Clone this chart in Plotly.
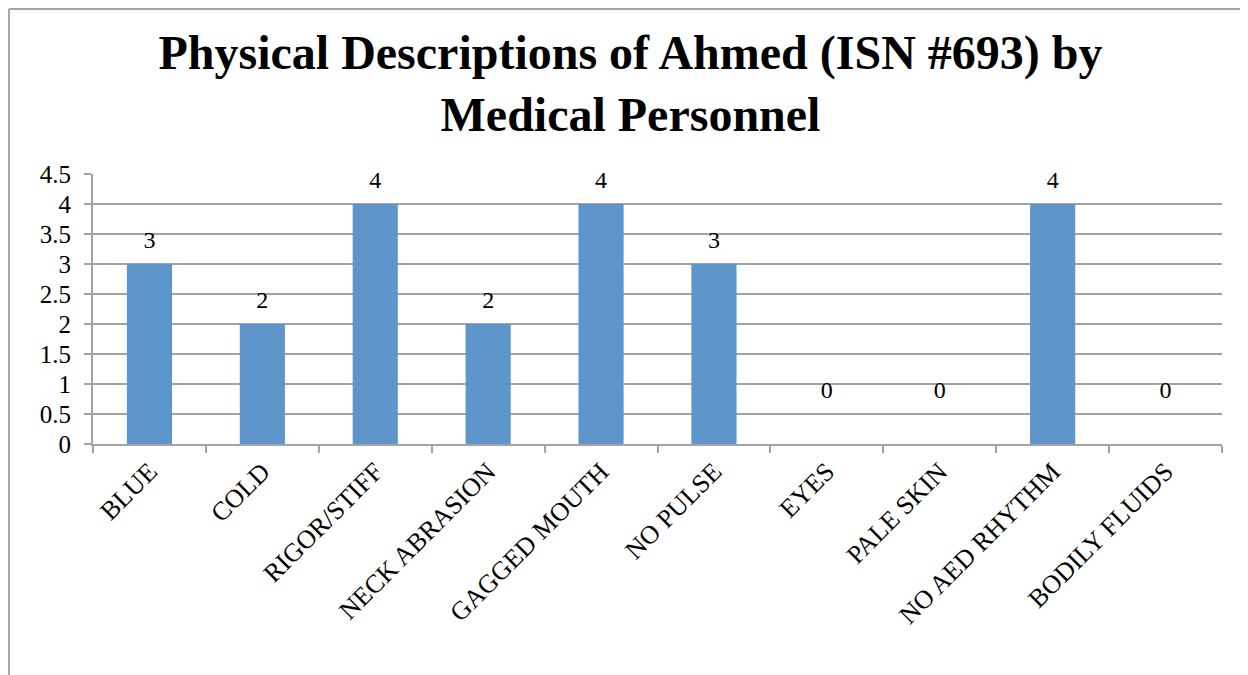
import plotly.graph_objects as go

# ------------------------------------------------------------------------------------------------------------
# Data
categories = ["BLUE", "COLD", "RIGOR/STIFF", "NECK ABRASION", "GAGGED MOUTH",
              "NO PULSE", "EYES", "PALE SKIN", "NO AED RHYTHM", "BODILY FLUIDS"]
counts = [3, 2, 4, 2, 4, 3, 0, 0, 4, 0]
y_ticks = [0, 0.5, 1, 1.5, 2, 2.5, 3, 3.5, 4, 4.5]

# Excel floats the labels of empty bars a little above the baseline
label_y = [v if v else 0.5 for v in counts]

font_family = "Liberation Serif"
grid_color = "#A3A3A3"

# ------------------------------------------------------------------------------------------------------------
# Figure (the page body adds an 8px margin, so the figure is sized to fit what is left)
fig = go.Figure()
fig.add_trace(go.Bar(x=categories, y=counts, marker_color="#5E95CA",
                     marker_line_width=0, width=0.4, hoverinfo="x+y"))
fig.add_trace(go.Scatter(x=categories, y=label_y, mode="markers+text",
                         text=[str(v) for v in counts], textposition="top center",
                         textfont=dict(size=24, color="black", family=font_family),
                         marker=dict(size=14, opacity=0), hoverinfo="skip",
                         cliponaxis=False))

fig.update_layout(
    width=1240, height=667,
    margin=dict(l=85, r=26, t=166, b=231),
    paper_bgcolor="white", plot_bgcolor="white",
    showlegend=False,
    font=dict(family=font_family, color="black"),
    title=dict(text="<b>Physical Descriptions of Ahmed (ISN #693) by<br>Medical Personnel</b>",
               x=0.502, xanchor="center", y=0.909, yanchor="top",
               font=dict(size=48, family=font_family, color="black")),
)
fig.update_xaxes(
    showgrid=False, showline=True, linecolor=grid_color, linewidth=2,
    ticks="outside", tickson="boundaries", ticklen=7, tickwidth=2, tickcolor=grid_color,
    tickangle=-45, tickfont=dict(size=26, family=font_family, color="black"),
    range=[-0.5, 9.5], automargin=False)
fig.update_yaxes(
    range=[0, 4.5], tickvals=y_ticks, ticktext=[f"{t:g}" for t in y_ticks],
    showgrid=True, gridcolor=grid_color, gridwidth=1.5, zeroline=False,
    showline=True, linecolor=grid_color, linewidth=2,
    ticks="outside", ticklen=7, tickwidth=2, tickcolor=grid_color, ticklabelstandoff=8,
    tickfont=dict(size=25, family=font_family, color="black"), automargin=False)

# Chart frame (left and top edge)
fig.add_shape(type="line", xref="paper", yref="paper", x0=-0.0744, x1=-0.0744, y0=1.611, y1=-0.86,
              line=dict(color="#A6A6A6", width=2))
fig.add_shape(type="line", xref="paper", yref="paper", x0=-0.0744, x1=1.03, y0=1.611, y1=1.611,
              line=dict(color="#A6A6A6", width=2))

fig.write_html("out.html")
